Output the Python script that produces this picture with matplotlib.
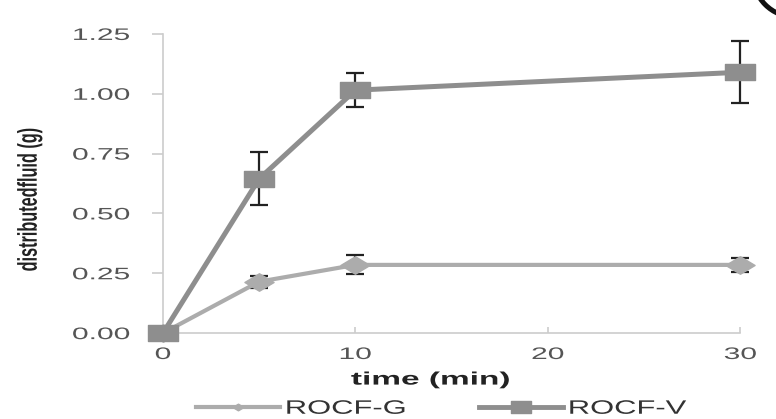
import matplotlib
matplotlib.use("Agg")
import matplotlib.pyplot as plt
from matplotlib.path import Path
from matplotlib.patheffects import AbstractPathEffect
from matplotlib.transforms import Affine2D
from matplotlib.lines import Line2D
from matplotlib.patches import Ellipse

plt.rcParams['font.family'] = ['Liberation Sans', 'DejaVu Sans']

time = [0, 5, 10, 30]
rocf_g = [0.0, 0.215, 0.285, 0.285]
rocf_g_err = [0.0, 0.025, 0.04, 0.03]
rocf_v = [0.0, 0.645, 1.015, 1.09]
rocf_v_err = [0.0, 0.11, 0.07, 0.13]
xticks = [0, 10, 20, 30]
yticks = [0.0, 0.25, 0.5, 0.75, 1.0, 1.25]
series_names = ['ROCF-G', 'ROCF-V']


class Stretch(AbstractPathEffect):
    """Draw the text glyphs scaled in their own frame (the source image is stretched)."""
    def __init__(self, sx=1.0, sy=1.0, fx=0.5, fy=0.5):
        super().__init__()
        self.sx, self.sy, self.fx, self.fy = sx, sy, fx, fy

    def draw_path(self, renderer, gc, tpath, affine, rgbFace=None):
        ext = tpath.get_extents()
        ax_ = ext.x0 + self.fx * ext.width
        ay_ = ext.y0 + self.fy * ext.height
        t = Affine2D().translate(-ax_, -ay_).scale(self.sx, self.sy).translate(ax_, ay_)
        renderer.draw_path(gc, tpath, t + affine, rgbFace)


rect = Path([(-1, -0.55), (1, -0.55), (1, 0.55), (-1, 0.55), (-1, -0.55)],
            [Path.MOVETO, Path.LINETO, Path.LINETO, Path.LINETO, Path.CLOSEPOLY])
diam = Path([(-1, 0), (0, -0.6), (1, 0), (0, 0.6), (-1, 0)],
            [Path.MOVETO, Path.LINETO, Path.LINETO, Path.LINETO, Path.CLOSEPOLY])

fig = plt.figure(figsize=(7.76, 4.19), dpi=100)
ax = fig.add_axes([0.210, 0.205, 0.744, 0.714])

cg = '#acacac'
cv = '#8e8e8e'

ax.errorbar(time, rocf_g, yerr=rocf_g_err, color=cg, lw=3.0, marker=diam, ms=21,
            mfc=cg, mec=cg, ecolor='#222222', elinewidth=1.6, capsize=6.5, capthick=1.6,
            clip_on=False, zorder=3)
ax.errorbar(time, rocf_v, yerr=rocf_v_err, color=cv, lw=3.6, marker=rect, ms=21,
            mfc=cv, mec=cv, ecolor='#222222', elinewidth=1.6, capsize=6.5, capthick=1.6,
            clip_on=False, zorder=4)

ax.set_xlim(0, 30)
ax.set_ylim(0, 1.25)
ax.set_xticks(xticks)
ax.set_yticks(yticks)
ax.set_yticklabels([f"{v:.2f}" for v in yticks])
for s in ['top', 'right']:
    ax.spines[s].set_visible(False)
for s in ['left', 'bottom']:
    ax.spines[s].set_color('#cccccc')
    ax.spines[s].set_linewidth(1.2)
ax.tick_params(axis='both', colors='#cccccc', labelcolor='#555555', labelsize=12, width=1.2)
ax.tick_params(axis='y', length=8, direction='out', pad=16)
ax.tick_params(axis='x', length=4, direction='in', pad=10)

for t in ax.yaxis.get_major_ticks():
    t.label1.set_path_effects([Stretch(sx=1.8, fx=1.0)])
for t in ax.xaxis.get_major_ticks():
    t.label1.set_path_effects([Stretch(sx=1.8, fx=0.5)])

ax.set_xlabel('time (min)', fontsize=13, fontweight='bold', color='#222222')
ax.xaxis.label.set_va('center')
ax.xaxis.set_label_coords(0.463, -0.157)
ax.xaxis.label.set_path_effects([Stretch(sx=1.85, fx=0.5)])

ax.set_ylabel('distributedfluid (g)', fontsize=13, fontweight='bold', color='#222222')
ax.yaxis.label.set_va('center')
ax.yaxis.set_label_coords(-0.2305, 0.445)
ax.yaxis.label.set_path_effects([Stretch(sx=0.9, sy=1.5, fx=0.5, fy=0.5)])

h1 = Line2D([], [], color=cg, lw=3, marker=diam, ms=8, mfc=cg, mec=cg)
h2 = Line2D([], [], color=cv, lw=3.5, marker=rect, ms=15, mfc=cv, mec=cv)
leg = fig.legend([h1, h2], series_names, loc='center', bbox_to_anchor=(0.541, 0.024),
                 ncol=2, frameon=False, fontsize=14, handlelength=4.3, columnspacing=6.0,
                 handletextpad=0.3, labelcolor='#333333', borderpad=0.0)
for txt in leg.get_texts():
    txt.set_path_effects([Stretch(sx=1.59, fx=0.0)])

# black arc fragment in the top-right corner of the source image
r = 42
fig.patches.append(Ellipse((795 / 776, 1 + 25 / 419), 2 * r / 776, 2 * r / 419,
                           transform=fig.transFigure, fill=False, edgecolor='#111111',
                           lw=3.6, clip_on=False))

fig.savefig('out.png', dpi=100)
